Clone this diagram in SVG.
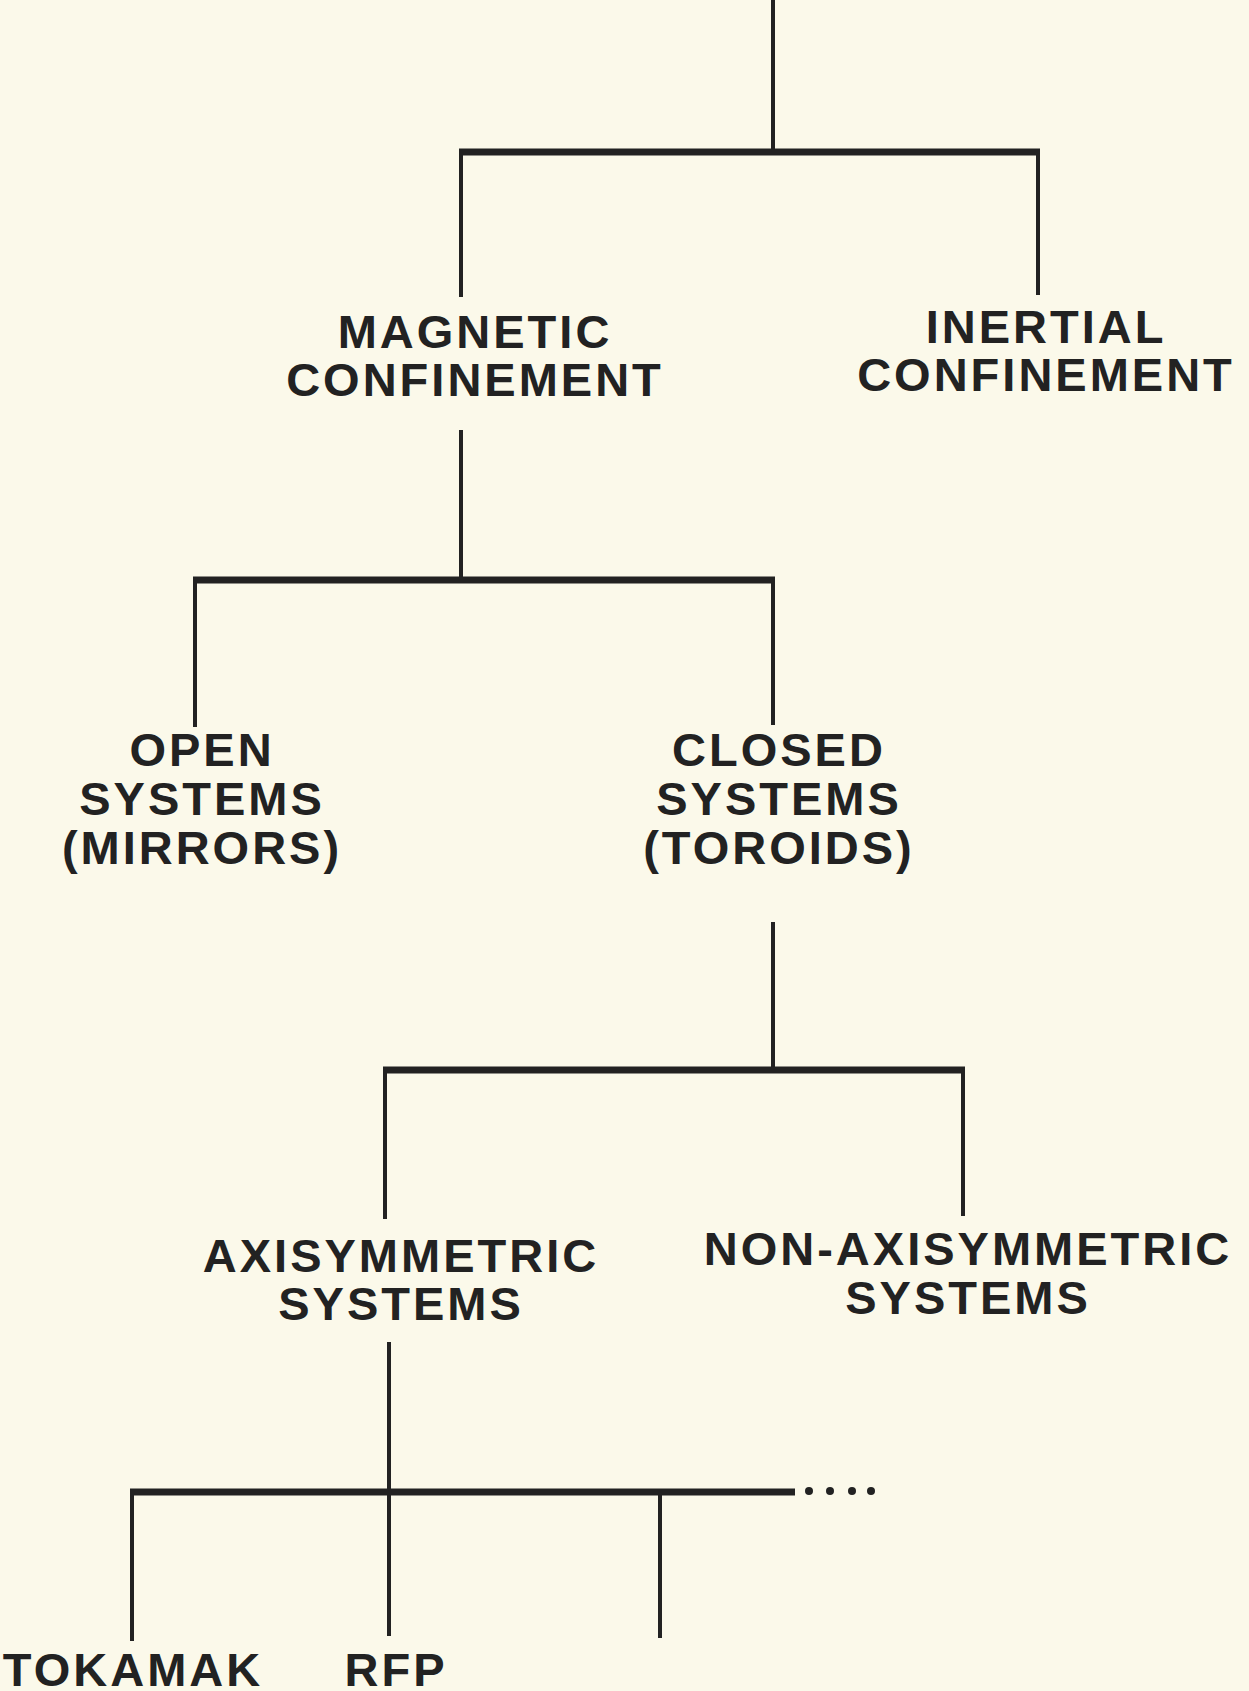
<svg xmlns="http://www.w3.org/2000/svg" width="1249" height="1691" viewBox="0 0 1249 1691">
<style>
.bg{fill:#fbf9ea}
.v{stroke:#222;stroke-width:4;fill:none}
.h{stroke:#222;stroke-width:7;fill:none}
.dot{fill:#222}
text{font-family:"Liberation Sans",Arial,sans-serif;font-weight:bold;font-size:47px;letter-spacing:3px;fill:#222;text-anchor:middle}
</style>
<rect class="bg" x="0" y="0" width="1249" height="1691"/>
<g id="connectors">
<line class="v" x1="773" y1="0" x2="773" y2="152"/>
<line class="h" x1="459" y1="152" x2="1040" y2="152"/>
<line class="v" x1="461" y1="152" x2="461" y2="297"/>
<line class="v" x1="1038" y1="152" x2="1038" y2="295"/>
<line class="v" x1="461" y1="430" x2="461" y2="580"/>
<line class="h" x1="193" y1="580" x2="775" y2="580"/>
<line class="v" x1="195" y1="580" x2="195" y2="727"/>
<line class="v" x1="773" y1="580" x2="773" y2="725"/>
<line class="v" x1="773" y1="922" x2="773" y2="1070"/>
<line class="h" x1="383" y1="1070" x2="965" y2="1070"/>
<line class="v" x1="385" y1="1070" x2="385" y2="1219"/>
<line class="v" x1="963" y1="1070" x2="963" y2="1216"/>
<line class="v" x1="389" y1="1342" x2="389" y2="1636"/>
<line class="h" x1="130" y1="1492" x2="795" y2="1492"/>
<line class="v" x1="132" y1="1492" x2="132" y2="1641"/>
<line class="v" x1="660" y1="1492" x2="660" y2="1638"/>
<circle class="dot" cx="809" cy="1491" r="4"/>
<circle class="dot" cx="830" cy="1491" r="4"/>
<circle class="dot" cx="852" cy="1491" r="4"/>
<circle class="dot" cx="871" cy="1491" r="4"/>
</g>
<g id="magnetic"><text x="475" y="348">MAGNETIC</text><text x="475" y="396">CONFINEMENT</text></g>
<g id="inertial"><text x="1046" y="343">INERTIAL</text><text x="1046" y="391">CONFINEMENT</text></g>
<g id="open"><text x="202" y="766">OPEN</text><text x="202" y="815">SYSTEMS</text><text x="202" y="864">(MIRRORS)</text></g>
<g id="closed"><text x="779" y="766">CLOSED</text><text x="779" y="815">SYSTEMS</text><text x="779" y="864">(TOROIDS)</text></g>
<g id="axisymmetric"><text x="401" y="1272">AXISYMMETRIC</text><text x="401" y="1320">SYSTEMS</text></g>
<g id="nonaxisymmetric"><text x="968" y="1265">NON-AXISYMMETRIC</text><text x="968" y="1314">SYSTEMS</text></g>
<g id="tokamak"><text x="133" y="1686">TOKAMAK</text></g>
<g id="rfp"><text x="396" y="1686">RFP</text></g>
</svg>
